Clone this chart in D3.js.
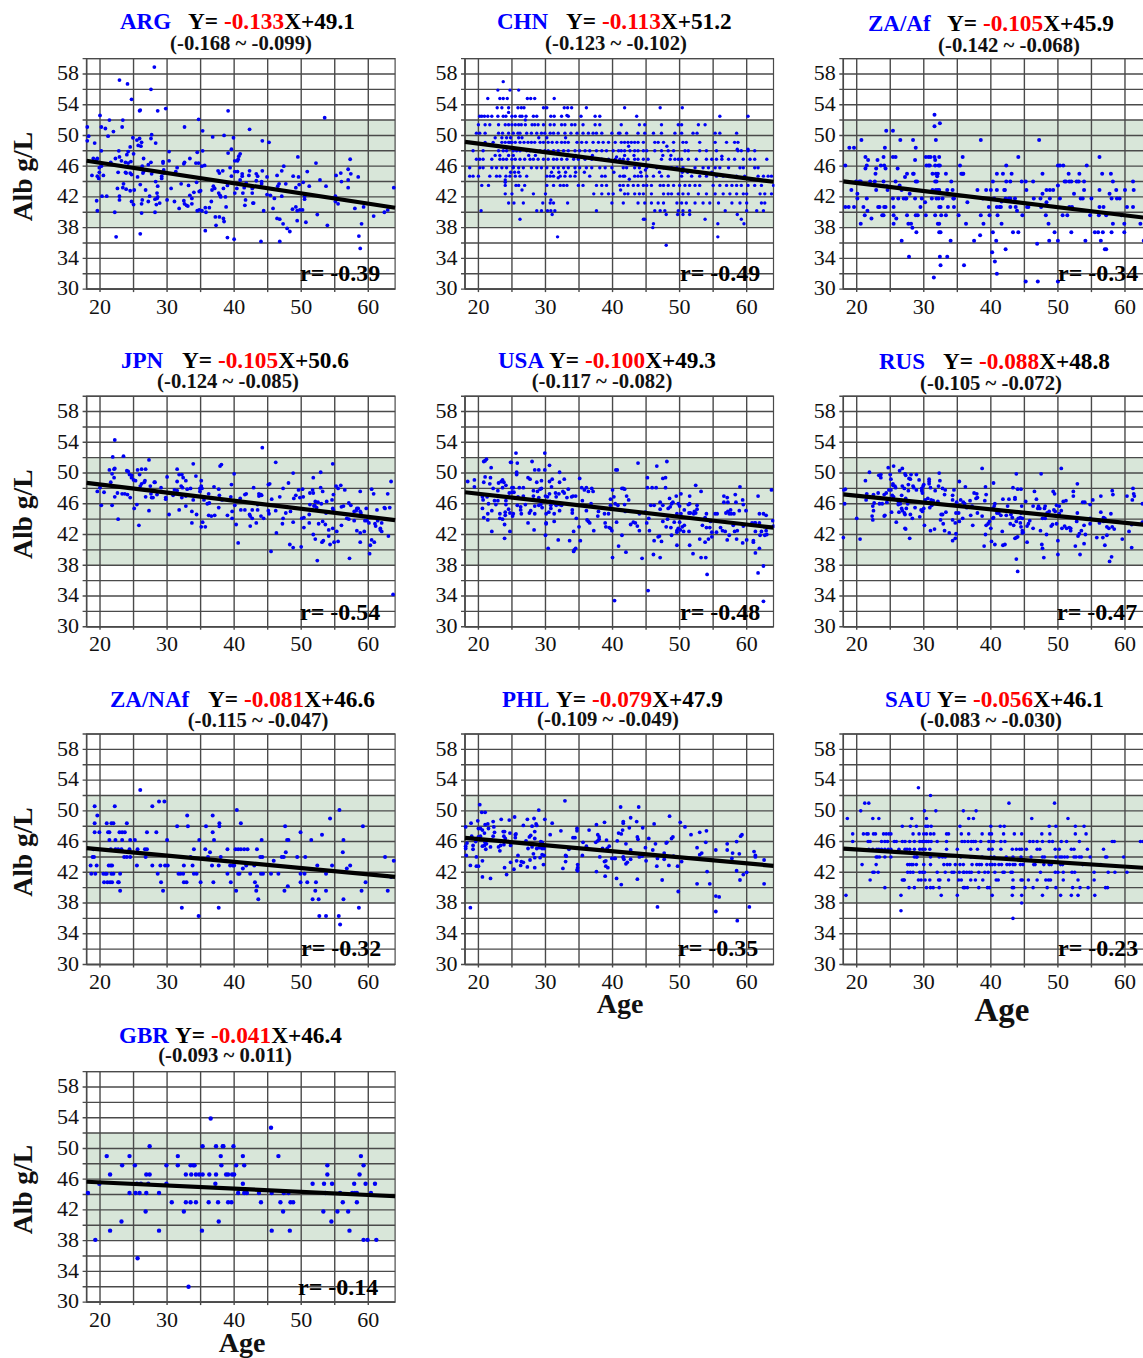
<!DOCTYPE html>
<html><head><meta charset="utf-8">
<script src="https://cdn.jsdelivr.net/npm/d3@7"></script>
<style>
html,body{margin:0;padding:0;background:#fff;overflow:hidden}
svg{display:block}
text{font-family:"Liberation Serif","Times New Roman",serif}
</style></head><body><div id="c"></div>
<script>
// ---------- tick values ----------
const xTicks=[20,25,30,35,40,45,50,55,60];
const xLabels=[20,30,40,50,60];
const yTicks=[30,32,34,36,38,40,42,44,46,48,50,52,54,56,58,60];
const yLabels=[30,34,38,42,46,50,54,58];
const refBand=[38,52];

// ---------- panel statistics ----------
const names=["ARG","CHN","ZA/Af","JPN","USA","RUS","ZA/NAf","PHL","SAU","GBR"];
const slopes=[-0.133,-0.113,-0.105,-0.105,-0.100,-0.088,-0.081,-0.079,-0.056,-0.041];
const intercepts=[49.1,51.2,45.9,50.6,49.3,48.8,46.6,47.9,46.1,46.4];
const slopeText=["-0.133","-0.113","-0.105","-0.105","-0.100","-0.088","-0.081","-0.079","-0.056","-0.041"];
const ciText=["(-0.168 ~ -0.099)","(-0.123 ~ -0.102)","(-0.142 ~ -0.068)","(-0.124 ~ -0.085)","(-0.117 ~ -0.082)","(-0.105 ~ -0.072)","(-0.115 ~ -0.047)","(-0.109 ~ -0.049)","(-0.083 ~ -0.030)","(-0.093 ~ 0.011)"];
const rText=["r= -0.39","r= -0.49","r= -0.34","r= -0.54","r= -0.48","r= -0.47","r= -0.32","r= -0.35","r= -0.23","r= -0.14"];

// ---------- scatter values [age, albumin] ----------
const ARG=[[18.1,51.1],[18.3,49.9],[18.1,49.3],[19.2,49],[22.9,57.2],[24.1,56.7],[24.7,54.7],[28.1,58.9],[27.6,56],[25.9,53.2],[26,53.3],[28.6,53.2],[29.8,53.5],[39.1,53.2],[20,52.6],[21.4,52],[23.4,52],[23.3,51.1],[20.2,51.1],[20.8,50.9],[22,50.5],[21.2,49.9],[24.9,49.7],[25.5,49.4],[25.9,49.6],[27.7,50.1],[27.6,49.6],[26.2,49.1],[25.7,48.7],[26.1,48.6],[28.3,49],[24.5,48.5],[24.2,47.9],[22.8,48],[20.2,48],[25,47.6],[24,47.5],[22.9,47.2],[22.3,47],[26.5,47],[19,47],[19.6,47],[19.5,46.8],[23.2,46.7],[21.6,46.5],[23.8,46.5],[24.2,46.4],[24.6,46.6],[27.6,46.5],[27.2,46.2],[26.3,46],[20.2,46],[19.9,45.8],[29.4,46.6],[29.4,46.4],[30.3,47.9],[30.3,46.7],[32.6,46.5],[32.5,46.3],[33.4,47],[34.5,47.8],[35.3,48],[34.7,46.4],[34.3,46.4],[35.2,46],[35.6,46.1],[32.6,51.1],[35.3,50.6],[34.7,52.1],[36.8,49.8],[38.5,50],[39.9,49.7],[42.3,50.8],[44.2,49.3],[45.2,49.1],[39.1,47.7],[39.6,48.2],[53.5,52.3],[49.5,47.2],[39.4,45.8],[40.1,46.7],[40.5,46.7],[40.9,47.6],[40.7,47.3],[40.6,46.9],[47.4,46],[47.1,45.4],[44.2,45.4],[42.3,45.4],[40.1,45.3],[40.5,45.3],[37.6,45.4],[38.3,45.4],[37.8,45.1],[39.6,44.7],[41.2,45],[41.2,44.7],[40.9,44.2],[42.2,44.8],[43.3,45],[43.3,44.1],[43.5,44.7],[46.4,44.8],[48.8,44.7],[49.6,44.6],[50.9,45.3],[52.2,46.4],[52.8,44.2],[53.7,43.4],[55.2,44.8],[55.9,45.1],[56,44],[57.3,46.9],[57,45.6],[57.4,45],[57,44.2],[57,43.2],[58.5,44.6],[63.8,43.2],[55.1,42.1],[55.1,41.4],[55.5,41.1],[58,40.5],[59.3,40.7],[60.8,39.5],[62.4,40],[62.9,40.3],[59,38.5],[58.6,36.9],[58.8,35.3],[53.9,38.3],[52.4,39.7],[50.5,42.1],[50.5,41.7],[51.2,43.4],[50.3,43.9],[49.7,43.6],[49.2,43.2],[48.7,40.4],[49.2,40.7],[49.8,40.3],[50.2,40.3],[49.4,40.2],[49.4,38.9],[50.7,38.7],[48.3,37.5],[47.9,37.9],[47.3,38.5],[46.4,39.2],[46.8,39.1],[46.8,36.2],[44,36.2],[40,36.5],[39,36.7],[35.7,37.6],[45.8,40.5],[44.4,40.2],[42.8,41.2],[42.9,41.2],[41.7,41.6],[41.6,40.9],[46,41.8],[45.4,42.2],[44.9,42.3],[47.1,42.1],[47.7,43.7],[46.7,43.7],[46.5,43.4],[44.1,44],[44.1,43.7],[44.9,44.6],[42.7,42.5],[42.7,43.1],[41.3,42.5],[41.5,43.2],[41.8,43.8],[40.4,43.1],[40.1,42.5],[39,43.5],[38.7,42],[38.4,43.1],[37.1,43.1],[36.7,42.9],[36.9,43.4],[37.7,42.5],[37.9,42.2],[38,42],[38.8,40.7],[38.4,39.2],[38.5,38.8],[37.2,39.4],[37.8,39.4],[37.3,38.3],[36.6,41.4],[36.3,40.6],[35.7,40.6],[35.8,40],[34.5,40.2],[34.8,40.3],[35.2,40.2],[31.8,40.5],[31.1,41.4],[32.5,41.5],[32.6,41.1],[32.9,40.9],[33.1,40.8],[33.7,41.1],[33.7,41.8],[33.4,42.2],[34,42.6],[34.8,42.7],[35,42.8],[34.4,43.9],[33.2,43.5],[32.1,43.7],[30.6,43.1],[30,41.6],[28.9,41.2],[28.6,43.4],[28.5,42.5],[28.6,42],[28.2,41.7],[28.5,41.8],[28.4,41],[28.2,40],[26,37.2],[22.4,36.8],[22.2,40],[19.6,40.2],[19.5,41.5],[20.3,42.1],[21,42.1],[22.6,43.1],[22.9,42.1],[22.9,41.6],[23.5,43.7],[23.4,43.2],[23.9,43],[24.5,42.8],[25.1,42.9],[24.7,41.4],[25,41],[26.2,41.1],[26.3,41.6],[26.2,39.9],[27.2,41.4],[27.4,42.1],[26.8,42.9],[26,43.6],[28.3,44],[29.2,44.4],[29.2,44.7],[31.3,45.3],[31.5,45.8],[29.5,45.5],[29.5,45.1],[27.7,45],[26.5,45.3],[26.4,45.1],[25.6,44.6],[23.8,45.2],[23.9,45.1],[22.7,45.2],[24.5,45.1],[24.7,44.9],[18.8,44.8],[19.6,44.7],[19.8,44.4],[19.9,45.2],[20.5,44.8]];

// CHN values sit on reported levels: [albumin, [ages]]
const CHN_levels=[
[57,[23.7]],
[55.9,[22.9,24.7,26]],
[54.8,[21.4,23.2,23.7,24.3,27.3,27.8,28.4,31.3]],
[53.6,[22.8,23.5,24.5,25.9,26.4,26.8,29.7,30.2,32.8,33.3,33.9,36.1,41.8,47.1,50.4]],
[52.5,[20.2,20.5,20.9,21.4,22,22.9,23.7,24.1,25,25.5,26.2,26.5,27.1,28.2,28.7,30.8,31.3,32.4,33.4,35.3,37.4,38.1,43.6,56,60.2]],
[51.4,[20,21,21.7,23,24,24.5,25,25.5,26,26.4,27,28,28.4,28.9,29.7,30.7,31.3,32.4,32.9,33.9,34.4,35.6,37.4,38.1,41.3,44,44.8,47.3,49.8,50.3,52.8,53.8]],
[50.3,[19.7,20.2,21,23,23.6,24.5,25.2,25.9,26.2,27.2,27.9,28.7,29.4,29.9,30.7,31.2,31.9,32.9,33.8,34.7,35.6,36.4,37.1,37.6,38.4,39.9,40.9,41.1,42.1,43.8,44.8,46.1,47.3,49.3,50.3,52,52.6,55.3,56,58.5]],
[49.7,[22.5,23.5,24.2,24.8,26,26.5,29,30.2,33]],
[49.1,[18.7,21,22.2,23.5,24,24.5,24.7,25,25.5,26.2,26.8,27.4,27.9,28.4,29.2,29.7,30.4,31,31.7,32.4,32.9,33.4,34.7,35.4,36.1,37.1,37.9,38.6,39.4,40.4,41.3,41.8,42.3,42.8,43.3,43.8,44.6,46.3,46.8,47.6,49.1,50.5,51,53,55.3,57,58.2,58.7]],
[48,[19.2,20.7,23,23.7,24.2,25.2,25.7,26.2,27.2,27.7,28.4,29.2,29.9,30.4,31.2,31.9,32.7,33.4,34.4,35.1,35.9,36.6,37.6,38.4,39.1,40.1,40.9,41.3,41.8,42.6,43.3,43.8,44.6,45.1,46.3,47.3,48.3,49.1,50.8,51.3,53,54,55.5,58.7,59.2,60.2,61.2]],
[47.4,[22.5,23.2,24.5,25.2,27.5,28.5,33.5,34.5,37,41.8,43.2,47.5,48.7]],
[46.9,[19.7,20.2,20.7,22,23.2,23.7,24.2,25,25.5,26.2,26.9,27.7,28.2,28.9,29.7,30.4,31.2,31.7,32.4,33.2,34.2,34.9,35.9,36.9,37.6,38.4,39.4,40.4,41.1,41.6,42.3,43.3,43.8,44.6,45.3,47.3,48.6,49.3,49.8,50.3,51.3,52.5,54,54.8,55.5,56.3,57.3,58.2,59.5,60.5,61.2,63]],
[45.8,[18.7,20.2,20.7,22,22.7,23.5,24.2,25.2,26,26.7,27.9,28.7,29.4,30.2,31.2,31.9,32.7,33.4,34.4,35.1,36.1,36.9,38.1,38.9,39.9,41.6,42.1,43.3,44,45.1,46.6,47.6,48.8,49.6,50.5,52.3,53.5,54.3,55.3,56,57.3,59,59.5,61.2,61.7]],
[45.2,[24.8,25.4,26,30.9,32,33,34.5,35.8,40.2,44.2,47,50.4,54.8]],
[44.7,[18.7,19.2,20,21.7,22.7,23.2,24.1,24.7,25.5,26.2,27.2,30.2,30.7,31.2,32.2,32.9,33.7,34.4,36.6,38.4,38.9,41.1,41.6,41.8,43.3,43.8,44.3,45.1,46.1,47.3,48.3,50.3,51.8,53,54,55.5,56.5,57.5,58.5,59.7,61.7,62.5,63.2,63.7]],
[43.5,[20.5,21.5,24,25.6,26,26.9,30.2,31.2,32.2,32.7,33.2,34.9,35.6,37.6,38.4,39.1,41.1,41.6,42.3,43.1,43.8,44.6,45.1,45.8,47.1,47.6,48.3,49.1,50,50.8,51.5,52.3,53,55,56,57,57.8,58.5,59.2,60.2,61.2,62.2,64]],
[42.4,[24,25,28.2,30,37.2,38.4,39.4,40.1,41.8,42.3,43.3,44,44.6,45.8,47.6,48.3,48.8,49.8,50.5,51.3,52.8,54,55.3,56.5,57.5,58.5,59.5,60,62,62.7,63.7]],
[41.2,[24.5,25.3,26.7,29.6,30.7,31.2,33.3,39.9,41.6,43.8,44.8,45.8,46.8,47.6,49.6,50.3,51,52.3,53.5,54.5,55.8,57.8,59,60,62.2,62.7]],
[40.2,[20.4,28.7,29.4,30.3,30.8,31.4,37.6,46.3,47.1,47.8,49.8,50.5,51.5,56.8,60,61.5,62.5]],
[39.7,[48,49.7,50.5,51.5,58.6,31]],
[39.1,[26.2,44.6,53.8,59.2]],
[38.5,[46.1,55.7,59.6]],
[38,[46]],
[36.8,[31.8,55.7]],
[35.7,[48]]];

const ZAAf=[[18.3,46.1],[18.3,40.7],[18.8,40.7],[18.9,48.4],[19.6,48.4],[19.2,42.9],[19.6,40.7],[19.9,44],[20.1,42.4],[20.1,41.8],[20.4,44],[20.6,44],[20.6,38.5],[20.7,49.4],[21,40.7],[21.2,39.6],[21.3,47.2],[21.3,45.7],[21.5,46.1],[21.7,46.8],[21.5,41.8],[21.6,40.2],[22,44],[22.2,39.2],[22.7,44],[22.8,45],[22.9,45.7],[22.9,42.9],[23.1,46.8],[23.2,40.7],[23.4,40.7],[23.6,46.1],[23.8,39.6],[24,39.6],[24,44],[24,47.2],[24.1,46.1],[24.2,48.4],[24.3,45.7],[24.4,50.6],[24.5,43.4],[24.6,42.9],[24.1,40.7],[24.3,40.7],[25.4,50.6],[25.4,47.2],[25.8,47.2],[25.4,41.8],[25.5,40.7],[25.5,39.6],[25.5,38.5],[25.8,44],[25.9,39.2],[26.1,45.7],[26.2,41.8],[26.4,43.5],[26.5,49.4],[26.7,42.9],[26.7,36.3],[27,41.8],[27.3,41.8],[27.2,44.6],[27.5,45],[27.4,41.8],[27.5,39.6],[27.7,38.5],[27.8,34.2],[27.9,42.4],[28.1,38.5],[28.3,38],[28.4,45],[28.4,49.4],[28.5,45],[28.7,41.8],[28.7,46.8],[28.8,48.4],[28.8,44],[29,44],[28.8,39.6],[28.9,37.4],[29.1,39.6],[29.5,40.7],[29.7,41.8],[30.2,41.3],[30.3,39.6],[30.3,47.2],[30.7,47.2],[30.4,46.1],[30.7,46.1],[30.9,46.1],[31,47.2],[31.3,42.9],[31.2,41.8],[31.3,45],[31.5,31.5],[31.6,47.2],[31.6,51.2],[31.6,52.7],[31.7,46.8],[31.8,49.4],[31.7,46.1],[31.8,45],[31.7,44],[31.8,42.9],[32,44.7],[31.9,44],[32.1,42.9],[32.2,46.1],[32.1,45],[32.4,46.1],[32.3,47.2],[32.3,42.9],[31.7,39.6],[31.9,41.8],[32.2,41.8],[32.3,40.7],[32.5,40.7],[32.1,38.5],[32.3,38.5],[32.3,37.4],[32.5,37.4],[32.4,51.6],[32.4,34.2],[32.5,33.1],[32.6,39.6],[32.8,41.8],[33.3,45],[33.3,39.6],[33.5,34.2],[33.5,42.9],[33.6,40.7],[34,36.3],[34.1,44],[34.3,42.9],[34.4,41.8],[34.5,41.8],[34.5,40.7],[35.2,39.6],[35.4,46.1],[35.6,45],[35.8,45],[35.8,47.2],[35.9,45],[36,33.1],[36.3,38.5],[36.5,41.3],[37.5,36.3],[38,42.9],[38.4,37],[38.5,49.4],[38.5,39.6],[38.8,41.8],[38.9,38.5],[39.3,42.9],[39.7,40.7],[39.8,39.6],[40,42.9],[40.2,34.8],[40.3,37.4],[40.3,44],[40.5,41.8],[40.6,33.6],[40.8,36.3],[40.9,32],[40.9,45],[40.9,42.9],[40.9,40.7],[41,39.6],[41.3,40.7],[41.5,40.7],[41.6,41.4],[41.6,38.5],[41.8,45],[42,42.9],[42.1,42.9],[42.2,41.8],[42.2,35.2],[42.3,46.1],[42.3,44],[42.7,41.8],[42.9,41.8],[42.9,40.7],[42.9,44],[43.1,45],[43.3,37.4],[43.6,41.8],[43.7,40.7],[43.9,40.2],[44.1,47.2],[44.1,37.4],[44.6,44],[44.7,39.6],[45.2,44],[45.3,42.9],[45.2,31],[45.4,40.7],[45.6,40.7],[46.3,44],[46.4,41.8],[46.9,35.9],[47,31],[47.2,49.4],[47.4,41.8],[47.5,40.7],[47.7,45],[47.7,42.4],[48.2,39.6],[48.3,41.3],[48.3,42.9],[48.6,38.5],[48.7,36.3],[48.8,42.9],[48.8,41.8],[49.3,42.9],[49.5,37.4],[50,36.3],[50,31],[50,43.5],[50,46.1],[50.3,46.1],[50.3,41.8],[50.8,46.1],[50.7,39.6],[51,44],[51.2,44],[51.4,39.6],[51.6,45],[51.7,44],[51.7,40.7],[52,44],[52.1,40.7],[52,37.4],[52.4,42.4],[52.8,44],[53.1,44],[53.2,45],[53.4,41.8],[53.7,41.8],[53.9,44],[53.9,42.9],[54.1,36.3],[54.3,46.1],[54.8,39.6],[55,41.8],[55.5,37.4],[56,37.4],[56.1,39.6],[56.2,40.7],[56.2,42.9],[56.2,47.2],[56.4,36.3],[56.6,45],[56.7,37.4],[56.8,40.7],[57,35.2],[57.2,35.2],[57.2,39.6],[57.7,42.4],[57.9,45],[58,37.4],[58,41.8],[58.2,44],[58.2,38.5],[58.7,42.9],[58.8,41.8],[59.2,41.8],[59.5,39.6],[59.9,38.5],[59.9,37.4],[60,42.9],[60.3,40.7],[61.2,44],[61.2,40.7],[61.3,42.9],[62.3,38.5],[62.8,36.3],[63,40.7]];

const JPN=[[19.6,47.6],[20,48.1],[20.6,47.5],[20.2,45.8],[21.8,45.8],[22.7,44],[22.2,46.9],[22.6,47.4],[22.2,54.3],[21.9,52.1],[23.5,52.2],[22.2,50.6],[22.1,50.5],[21.4,50.4],[21.8,49.9],[22.1,49.4],[21.6,48.8],[24,50.3],[24.2,50.2],[24.4,49.8],[24.7,49.7],[24.7,49.4],[25,49.1],[25.3,49],[25.6,50.4],[26.2,50.5],[26.8,50.5],[27.3,51.7],[25.9,49.8],[26.2,48.6],[26,48.3],[26.6,48.8],[26.7,49],[28.2,48.8],[28.1,48.8],[27.5,48.3],[29.1,48.1],[23.3,47.3],[23.7,47.3],[24.1,47.2],[24.5,46.8],[25.1,45.4],[25.5,45.9],[25.8,43.2],[27.3,45.1],[26.8,46.9],[27.6,47.3],[27.7,46.8],[27.9,46.8],[28.5,47.2],[29.8,46.8],[29.8,46.6],[30,49.5],[30.3,44.6],[30.9,47.1],[31.1,47.8],[31.5,47.7],[31.5,50.5],[31.5,48.9],[31.8,45.2],[31.8,49.8],[32.2,49.8],[32.4,49.4],[32.8,49],[32.1,48.3],[32.3,48.1],[32.2,46.8],[32.8,47],[33,47.9],[33.5,48],[32.8,45.7],[33.9,51.2],[34.3,49.6],[33.7,45],[34.4,44.6],[33.7,43.5],[33.9,46.5],[34.9,47.6],[34.9,48],[35.1,49],[35.1,48.3],[35.2,48],[35.1,43],[35.7,43],[35.3,43.6],[35.5,46.5],[36,46],[36.2,47.3],[36.3,46.1],[36.2,44.5],[36.6,44.4],[37.1,44.5],[37,48.2],[37.7,45.5],[37.7,47.9],[37.8,47.1],[37.9,50.9],[38.1,51.1],[38.2,46.5],[39,44.5],[39.6,48.5],[39.5,46.9],[39.7,45],[39.7,44.1],[40,49.9],[40.1,45.8],[40.3,43.3],[40.6,40.9],[40.9,46.7],[41,45.2],[41.6,45.2],[41.6,47.2],[41.8,47.3],[42.3,44.6],[42.4,44.4],[42.7,44.1],[42.7,45.2],[42.4,43.1],[42.9,48.1],[43.3,43.5],[43.5,45.2],[43.5,45.9],[43.7,47.3],[44,47.2],[43.7,47],[44.1,47.1],[44,44.4],[44.4,44.1],[44.2,53.3],[45.1,48.5],[45.3,48.6],[45.1,45.1],[45.2,44.7],[45.6,46.6],[45.5,39.8],[46.2,51.4],[46.2,45.1],[46.3,42.2],[46.8,46.9],[47.2,43.4],[47.3,44.1],[47.3,48],[47.7,44.8],[48.1,48.7],[48.4,45],[48.3,40.7],[48.8,40.3],[48.8,43.6],[48.8,50],[48.9,46.7],[49.2,47.1],[49.6,47.8],[49.8,46.8],[50,40.4],[50.2,47.9],[50.3,46.9],[50.1,44.1],[50.4,44.2],[50.4,42.9],[51.2,44.6],[51.2,43.5],[51.3,45.9],[51.3,47.4],[51.8,49.4],[51.7,47.8],[51.8,47.4],[51.9,45.7],[52,45.8],[51.8,42],[52.1,41.4],[52.1,46.3],[52.4,38.6],[52.5,46.2],[52.6,43.4],[52.3,45.5],[52.9,50.1],[52.9,48.1],[53,46],[53.2,43.7],[53.2,47.6],[53.1,41],[53.3,41.2],[53.6,43.3],[53.7,44.8],[53.8,46.3],[54.1,41.8],[54.1,42.6],[54.3,40.7],[54.6,46.5],[54.7,51.2],[54.7,45.4],[54.8,45.2],[54.8,47.2],[54.7,42.8],[54.9,41],[55.2,48.3],[55.3,42.4],[55.5,41.1],[55.5,48],[55.9,48.4],[56,45.6],[56.3,45.7],[56,43.2],[56.5,47.8],[56.8,44.1],[57.1,44],[57.1,46.1],[57.2,38.9],[57.4,45.8],[57.9,45],[57.9,43.8],[58.3,42.5],[58.3,45.4],[58.5,45.4],[58.2,45.1],[58.8,45],[58.9,44.8],[58.8,42.2],[58.8,41],[58.8,47.6],[59.4,42.4],[59.5,43.8],[59.8,43.8],[59.7,45.4],[60.1,43.5],[60.2,39.5],[60.3,40.6],[60.5,47.9],[60.5,41.3],[60.8,47.3],[60.9,41],[61,43.4],[61.1,43.1],[61.3,45.2],[61.4,43.8],[61.8,42.6],[61.8,42.8],[62,43.5],[62,42.4],[62.4,45.5],[62.5,45.4],[62.9,47.3],[63,41.8],[63.2,45.5],[63.4,48.9],[63.7,34.2]];

const USA=[[18.4,48.9],[19.4,49.1],[19.4,48.2],[20.6,45.4],[20.7,46.5],[20.6,46.9],[20.8,48.8],[20.8,44.2],[20.8,51.5],[21,51.6],[21.2,51.8],[21,49.5],[21.3,46.9],[21.5,46],[21.4,44.7],[21.4,43.9],[21.7,48.6],[21.8,49.4],[21.9,50.7],[22,45.1],[22,42.4],[22.2,48],[22.4,46.4],[22.6,45.9],[22.9,46.4],[22.9,47.7],[23,48.7],[23.4,48.9],[23.6,49.1],[23.8,48.8],[23.2,44.7],[23.2,44.1],[23.6,44],[23.9,43.3],[23.9,41.5],[24,44.5],[24,44.9],[24.1,45.9],[24.1,46.4],[23.6,48.1],[24.1,48.4],[24.5,45.3],[24.6,47.4],[24.7,44.8],[24.7,42.4],[25,47.5],[25.2,44.7],[25.1,44.4],[24.8,51.4],[24.9,51.4],[25,48.1],[25.3,47.5],[25.2,48.1],[25.6,52.6],[25.7,50.1],[25.7,49.8],[25.8,51.3],[25.9,46.9],[25.8,45.8],[26.1,48.1],[26.3,45.6],[26.3,45.2],[26.4,44.7],[26.7,48.1],[26.7,47],[27,45.9],[27.4,43.5],[27.4,49.4],[27.7,49.2],[27.6,44.8],[27.8,45.1],[28,51.5],[28.2,47.7],[28.2,47],[28.3,42.6],[28.4,45.7],[28.4,44.7],[28.4,50.4],[28.7,48.8],[28.8,47.6],[29,45.8],[29,46.8],[29,50.4],[29.2,47.9],[29.4,49],[29.5,45.5],[29.4,48],[29.3,45.9],[29.9,50.4],[29.9,52.6],[30,47],[30.1,44.7],[30,41.9],[30.1,43.5],[30.1,43.4],[30.3,46.9],[30.4,40.2],[30.5,44.9],[30.6,51],[30.6,47.3],[30.6,48.9],[30.7,46.3],[30.8,45.4],[30.8,45.8],[30.9,48.2],[31,49.2],[31.1,46.2],[31.3,46.1],[31.3,44.7],[31.3,43.7],[31.5,47.4],[31.6,45.8],[31.6,46.9],[31.9,41.3],[32,47.3],[32.1,45.9],[32.1,45.1],[32.1,48.8],[32.1,50.1],[32.4,45.8],[32.6,47.6],[32.8,47.4],[32.8,49.2],[33.2,46.8],[33.4,47.9],[33.6,41.2],[33.9,46.9],[34,45.2],[34,44.8],[34.1,47],[34.2,39.8],[34.2,42.4],[34.3,40],[34.5,47],[34.5,40.2],[34.6,44.1],[35,43],[35.1,49.3],[35.2,41.2],[35.4,48.1],[35.5,46.4],[35.8,47.8],[36.1,45.1],[36.1,48.1],[36.2,43.9],[36.4,47.6],[36.4,43.7],[36.6,43.5],[36.8,46],[36.9,48],[37.1,47.6],[37.2,42.5],[37.9,45],[37.8,44.4],[38.9,43.5],[38.8,44.7],[39,43],[39.4,44.7],[39.5,42.9],[39.7,42.8],[39.7,45.8],[39.7,46.6],[39.9,42.5],[40,39],[40,47.8],[40.2,46.9],[40.3,33.4],[40.4,46],[40.5,50.4],[40.7,50.4],[40.6,43.6],[40.8,45.8],[40.9,40.5],[41.4,41.9],[41.4,48],[41.6,48],[41.8,47.9],[41.8,45.9],[41.9,45],[42,39.7],[42.1,47],[42.4,46.5],[42.7,43.3],[43.1,43.6],[43.4,43.5],[43.8,51.3],[43.7,43.1],[44,44.7],[44,42.5],[44.4,38.9],[44.9,44.9],[45.1,43.5],[45.2,49.4],[45.2,48.1],[45.3,34.7],[45.4,44.1],[45.5,42.5],[45.7,45.8],[45.9,48.1],[46.1,39.4],[46.2,45.8],[46.2,41.2],[46.5,48.1],[46.6,50.9],[46.8,41.7],[47,41.8],[47.1,45.3],[47.1,39],[47.1,46.2],[47.3,41.1],[47.5,43.7],[47.5,45.8],[47.5,49.3],[47.9,49.4],[47.9,48.1],[48,43],[48.2,44],[48.1,51.5],[48.3,45.4],[48.5,46.7],[48.6,45.6],[48.8,46],[48.8,41.9],[48.7,42.9],[49,46.2],[49.2,43.6],[49.5,47],[49.6,40.6],[49.6,44.7],[49.6,42.5],[49.6,42.3],[49.8,42.8],[49.8,46],[50,45.7],[50,43.6],[50.1,42.6],[50.2,47.3],[50.2,44.7],[50.4,43],[50.6,42.4],[50.7,43.2],[50.7,45.2],[51.3,45.9],[51.4,44.8],[51.4,42.4],[51.5,40.6],[51.5,47],[51.6,44.8],[51.5,46],[52,39.5],[52.1,44.7],[52.2,45],[52.4,44.8],[52.4,48.4],[52.6,45.3],[52.6,45.8],[53,41.4],[53.2,47.6],[53.2,39],[53.4,43.2],[53.8,44.2],[53.9,39],[53.8,41],[54,42.9],[54,44.7],[54.1,36.8],[54.3,41.4],[54.5,42.9],[54.6,43.7],[54.8,42.3],[54.8,41.7],[55.3,44.7],[55.5,42.3],[55.6,44.7],[56.1,42.9],[56.4,42.5],[56.6,47],[56.6,46.2],[56.8,42.4],[56.9,44.8],[57.1,41.3],[57.1,46.8],[57.2,45],[57.2,46.2],[57.4,41.9],[57.4,44.7],[57.6,45.2],[57.7,44.7],[58,43.2],[58.1,44.7],[58.2,42.4],[58.3,47.2],[58.4,46.2],[58.6,42.5],[58.5,41.4],[58.9,45.1],[59,48.2],[59.4,46.5],[59.4,40.9],[59.5,45.9],[59.5,43.1],[59.9,45.1],[60,41.3],[60.8,43.5],[61,41.2],[61,41],[61.2,43.5],[61.3,42.4],[61.3,43.5],[61.3,39.6],[61.7,47],[61.7,37],[61.9,44.7],[61.9,43.5],[61.9,40.2],[62,41.9],[62.2,42.4],[62.5,44.7],[62.5,33.3],[62.5,37.9],[62.7,41.9],[62.9,44.5],[62.9,42.5],[63,42],[63.7,47.8],[63.9,43.8],[64,43.1]];

const RUS=[[18,41.6],[18.1,47.8],[18.3,47.9],[18.2,46],[21.3,49],[20,44.1],[20.5,41.4],[21.5,47.3],[21.4,46.5],[21.9,50.1],[22.5,47.2],[22.5,46.9],[22.3,44.4],[22.4,43.9],[22.4,45.7],[22.6,46.1],[22.5,45.1],[23.2,47.4],[23.3,49.7],[23.6,49.4],[23.6,49.8],[23.4,46],[23.8,46],[24.1,44.4],[24.2,44.5],[24.1,47.2],[24.4,47.4],[24.5,46.2],[24.7,50.7],[25,49.8],[25.1,49.2],[24.8,47.8],[25.1,47.8],[25.2,44.9],[25.4,48.6],[25.4,48.4],[25.7,48.3],[25.5,50.9],[25.3,47.1],[25.5,46.9],[25.8,48.1],[25.9,43.6],[26.2,45.9],[26.5,46],[26.2,46.3],[26.4,50.3],[26.8,50.6],[26.3,44.9],[26.7,45.4],[26.8,45.1],[26.8,48.3],[27.1,48],[26.7,47.1],[27.2,49.9],[27.3,49.7],[27.1,44.8],[27.2,44.6],[27.3,42.7],[27.2,42.8],[27.4,45.4],[27.3,46.7],[27.6,46],[27.7,47.7],[27.7,48.5],[27.8,49.3],[28,49.2],[28.1,49.8],[28,44.6],[27.9,41.5],[28.3,44.1],[28.4,48.3],[28.5,48.1],[28.7,45.5],[28.9,47.8],[28.9,49.8],[29.3,49.1],[29.4,44.3],[29.6,45.2],[29.8,45],[29.7,47.7],[29.8,47.4],[29.7,48],[30,48.5],[29.9,48.3],[30,45.4],[30.1,43.2],[30.2,46.5],[30.6,46.7],[30.8,49.2],[30.8,48.9],[30.8,48.6],[31,48.1],[30.9,45.5],[31.2,45.8],[31,42.5],[31.1,46.5],[31.4,46.4],[31.3,46.1],[31.6,42.7],[31.7,47.7],[32.1,46.3],[32.3,50],[32.4,49],[32.2,48.3],[32.6,44.6],[32.8,44.6],[32.5,43.9],[32.9,43.4],[33.1,42.5],[32.8,48],[33.2,47.8],[33.1,47.2],[33.3,44.9],[33.8,42.2],[34.3,41.2],[34.7,41.5],[34.3,43.9],[34.5,47.8],[34.3,47.1],[34.3,46.5],[34.8,42.1],[34.7,43.5],[34.9,46.2],[34.8,44.8],[35.2,44.8],[35.3,48.9],[35.5,46.5],[35.3,43.7],[35.8,44.1],[35.9,46.2],[36.1,46],[36.2,48.2],[36.4,45.5],[36.9,46.4],[37,44.5],[37.3,43.2],[37.5,47.4],[37.9,47.3],[37.2,45.7],[37.8,46.7],[38,46.8],[38,44.8],[38.7,50.6],[38.7,44.4],[39,40.5],[39.2,48.2],[39.3,47.2],[39.1,46.4],[39.2,42],[39.3,43.2],[39.6,43.4],[39.8,43.7],[40,42.8],[40.1,41.1],[40.3,44.1],[40.4,44.2],[40.3,45.4],[40.4,48.7],[40.6,46],[40.5,45.7],[40.6,40.7],[40.9,44.8],[41.2,44.8],[41.8,46.6],[41.7,42.4],[41.8,40.6],[42.1,40.7],[41.5,44.5],[42.3,44.5],[42.7,46.6],[42.5,45.7],[42.9,43.4],[43,44.6],[43.3,48.1],[43.4,43.2],[43.2,44.2],[43.6,46.6],[43.6,46.8],[43.8,38.8],[43.6,41.5],[43.8,41.6],[44,41.7],[43.8,49.9],[44,37.2],[44,47.9],[43.8,43.7],[44.1,44.1],[44.4,44.2],[44.5,47.9],[44.4,43.5],[44.5,43],[44.7,42.2],[44.6,45.7],[44.7,44.1],[44.5,44.8],[44.7,42.5],[44.8,42.3],[45.2,46.3],[45.4,43.1],[45.4,41],[45.6,43.4],[45.8,43.8],[46.3,42.8],[46.3,45.7],[46.5,47.6],[46.8,46.6],[47,45.4],[47.3,45.4],[47.1,45.7],[47.4,42.5],[47.5,49.9],[47.6,40.7],[47.7,40.2],[47.9,39],[47.7,44.1],[48.1,44.1],[48.1,45.7],[48,45.4],[48.3,42],[48.4,44.8],[48.7,45],[49,43.1],[49.3,47.6],[49.5,47.3],[49.4,45.2],[49.6,45],[49.2,43.3],[49.8,43.4],[49.8,45.8],[50.2,45.7],[50,41.2],[50,39.4],[50.2,44.7],[50.5,45.1],[50.5,50.6],[50.6,42.8],[50.8,46.3],[51.2,46.4],[51,43.1],[51.3,42.8],[51.7,42.9],[51.9,42.5],[51.9,42.8],[52.3,47.6],[52.3,47],[52.6,40.5],[52.9,48.6],[52.9,44.8],[52.8,43.7],[53,41.8],[53.2,42.1],[53.3,39.4],[53.5,42.5],[53.7,46.2],[54,46.2],[53.9,43.2],[53.9,40.8],[54.1,42],[54.8,45.9],[54.8,44.1],[54.8,43.4],[55.2,46.5],[55.8,41.6],[56.2,43.5],[56.4,47],[56.4,44.9],[56.7,41.6],[56.8,44.2],[56.8,43.7],[57,44.1],[57,40.6],[57.3,41.9],[57.3,43],[57.6,42.8],[57.7,38.5],[57.9,44.7],[58,39.1],[58.1,47.7],[58.2,47.2],[58.1,43],[58.4,42.7],[59.6,41.4],[60.3,47],[60.6,42.4],[61,40.3],[61,43.3],[61.1,46.5],[61.2,48],[61.3,47.3],[61.4,47],[62.6,46],[62.6,43.6]];

const ZANAf=[[18.6,42.9],[18.7,41.8],[18.9,44],[19,45],[19.1,44],[19.2,48.4],[19.2,47.2],[19.3,41.8],[19.2,50.6],[19.5,42.9],[19.6,49.4],[19.9,47.2],[20.5,41.8],[20.6,40.7],[20.8,41.8],[21,41.8],[21,48.4],[21.1,40.7],[21.2,47.2],[21.3,42.9],[21.4,47.2],[21.4,46.2],[21.5,40.7],[21.6,45],[21.6,42.9],[21.7,41.8],[21.8,42.9],[21.7,48.4],[22,48.4],[21.8,40.7],[22,41.8],[22.2,50.6],[22.3,45],[22.3,46.2],[22.7,45],[22.7,40.7],[22.8,40.7],[22.9,47.2],[23,39.6],[23,41.8],[23.3,47.2],[23.2,45],[23.3,46.2],[23.6,44],[23.7,47.2],[24,44],[24,48.4],[24.4,45],[24.5,44],[24.5,46.2],[25.2,46.2],[25.5,42.9],[25.6,45],[26,52.7],[26.7,45],[26.8,44],[27,45],[27,47.2],[27.8,50.6],[27.8,42.9],[28.4,47.2],[28.6,41.8],[28.8,51.2],[29,42.9],[29.1,40.7],[29.4,39.6],[29.6,51.2],[29.7,42.9],[30,46.2],[30.1,42.9],[31.5,48],[31.7,41.8],[32,41.8],[32.2,37.4],[32.4,41.8],[32.5,42.9],[32.5,40.7],[32.9,40.7],[33,49.4],[33.1,48],[33.5,44],[33.8,42.9],[34,45],[34,41.8],[34.4,41.8],[34.7,36.3],[34.8,46.2],[35,40.7],[35.7,45],[35.8,48],[36.1,44],[36.4,44.6],[36.7,42.9],[36.8,49.4],[36.8,47.2],[36.9,40.7],[37,46.2],[37.7,37.4],[37.7,42.9],[37.8,48.4],[37.8,48],[38,44],[39,45],[39,41.8],[39.4,42.9],[39.5,40.7],[39.8,42.9],[40,42.9],[40.2,45],[40.3,39.6],[40.4,50.1],[40.6,45],[40.6,41.8],[40.8,41.8],[41,45],[41,48.4],[41.3,42.5],[41.5,45],[41.8,42.9],[42,45],[42.4,41.8],[43,42.9],[43.1,40.7],[43.3,39.6],[43.4,45],[43.4,40.2],[43.6,38.5],[43.9,44],[44,41.8],[44.1,46.2],[44.2,44],[44.3,41.8],[45.5,41.8],[45.9,43.5],[46.6,41.8],[47.1,44],[47.4,44],[47.5,39.6],[47.6,48],[47.7,44.6],[47.9,46.2],[48,40.2],[48.1,46.2],[49.4,44],[49.9,47.2],[49.9,41.8],[49.9,40.7],[50.5,41.8],[50.6,44],[50.9,40.7],[51.5,46.2],[51.7,38.5],[52.1,39.6],[52.2,40.7],[52.4,42.9],[52.6,38.5],[52.7,36.3],[53.1,46.9],[53.7,41.8],[53.7,39.6],[53.7,36.3],[54.3,49],[54.6,42.9],[55.6,36.3],[55.7,50.1],[55.8,35.2],[56.2,44.6],[56.3,46.2],[56.3,38.5],[56.8,42.5],[57.3,42.9],[58.6,37.4],[59,39.6],[59.2,48],[59.6,40.7],[62.5,44],[62.9,39.6],[63.4,41.4],[63.8,43.5]];

const PHL=[[18.1,47.9],[18.1,45.4],[18.1,45.1],[18.2,44.2],[18.3,45.8],[18.8,37.4],[18.8,42.9],[18.9,48.4],[19,46.7],[19.2,45.5],[19.2,45],[19.6,46],[19.7,44],[19.7,42.8],[19.9,48.7],[20,47.7],[20,46.6],[20,42.8],[20.2,50.8],[20.3,46.7],[20.3,47.7],[20.5,49.8],[20.6,45.4],[20.6,43.5],[20.6,47.5],[20.6,41.4],[20.9,47.1],[20.9,45.5],[21,45.9],[21,48.2],[21.1,45],[21.2,45.7],[21,49.8],[21.4,48.3],[21.5,47.7],[21.8,45.3],[21.8,41.2],[22,46.2],[22.2,48.6],[22.2,46.7],[22.3,47.9],[22.4,47.2],[23,45.3],[23.2,44.8],[23.4,48.9],[23.3,45.5],[23.7,47.3],[23.8,46.7],[23.9,47.3],[23.8,45.6],[23.9,42.6],[24,46.4],[24.2,41.7],[24.6,48.8],[24.7,47.1],[24.8,45.5],[24.8,43.3],[25.3,42.4],[25.5,46.5],[25.4,49.2],[25.5,46.9],[25.6,47],[25.7,43.5],[25.9,44.2],[26.3,42.9],[26.4,43.4],[26.7,43.3],[26.7,48.1],[27.1,46.1],[27.3,42.7],[27.3,48.9],[27.4,45.1],[27.6,46.6],[27.7,43.6],[27.8,46.8],[28,45.3],[28,48],[28.2,44.4],[28.4,46.4],[28.4,47.3],[28.3,49],[28.4,43.9],[28.4,42.6],[28.6,48.3],[28.7,48.1],[28.7,45.1],[29,50.1],[29.1,45.2],[29.2,43.9],[29.3,46],[29.5,45.9],[29.5,44.3],[29.5,45.1],[29.7,43],[29.8,44.2],[29.8,45.1],[29.9,48.9],[30.7,46.9],[31,48.4],[32.3,47.4],[32.6,42.5],[32.9,51.3],[33,44.2],[33,43.4],[33.1,44.1],[33.5,45],[34.1,46.5],[34.4,46.5],[34.7,47.7],[34.7,47.4],[34.8,43],[34.8,42.6],[34.8,42.2],[34.7,42.3],[35.5,44.2],[35.6,45.9],[36.1,45.4],[36.5,47.5],[37.5,45.9],[37.6,42.1],[37.6,48.2],[37.8,46.9],[37.8,46.1],[38,46.6],[38.1,44],[38,46.3],[38.5,45.1],[38.8,48.5],[38.8,43.4],[38.9,41.5],[39,43.5],[39,42.8],[39.1,46.2],[39.2,45.1],[39.3,42.6],[39.5,45.4],[39.9,43.8],[40.3,43.8],[40.4,43.8],[40.6,41.2],[40.7,46.1],[40.9,47.1],[41.3,40.4],[41.3,47],[41.2,50.5],[41.5,47.5],[41.6,43.9],[41.6,48.6],[41.6,48.4],[41.7,43.7],[41.6,44],[42,45.7],[42,43.1],[42.2,43.3],[42.5,47.8],[42.7,49.1],[42.7,44.9],[42.7,43.7],[43.6,48.6],[43.7,46.6],[43.8,46.3],[43.7,41.1],[43.9,50.5],[44,44],[44.4,44.1],[44.5,47.8],[44.9,45.2],[45,43.5],[45.4,46.4],[46,44.9],[46.2,48.3],[46.4,45.7],[46.6,42.8],[46.7,43.8],[46.7,37.5],[47.4,41],[47.7,44.5],[47.7,43.7],[48,45.8],[48.1,45.9],[48.4,42.9],[48.5,49.3],[48.8,46.4],[49,46.6],[49.1,44.1],[49.7,42.8],[49.8,39.5],[50.1,48.5],[50.3,43.4],[50.8,47.9],[51.7,46.9],[52.6,45.2],[52.6,40.5],[53,47.2],[53,44.3],[53.3,44.5],[54,47.4],[53.9,45.9],[54.1,42.1],[54.5,40.5],[55.4,44.9],[55.4,38.9],[55.4,36.9],[55.9,38.8],[57.1,45.7],[57.1,44.9],[57.9,44.5],[57.8,43.8],[58.5,42.2],[58.5,46],[58.6,35.7],[58.9,44.4],[59,41],[59.1,46.7],[59.3,46.9],[59.5,41.7],[60,42],[60.4,37.5],[61.1,44.7],[61.3,44.2],[61.3,44],[62.6,40.5],[62.6,43.6]];

// SAU values are whole g/L: [albumin, [ages]]
const SAU_levels=[
[53,[29.2]],
[52,[31]],
[51,[21.2,21.8,42.7,49.5]],
[50,[20.6,30.1,31.8,35.9,37.8]],
[49,[18.6,22.4,23.3,28.2,30.4,36.7,37.4,46.1,51.5]],
[48,[26.8,28,28.9,30.3,30.6,31.1,35.4,40,41.4,42,48.7,49.7,52.6,53.9]],
[47,[19.4,21,21.5,21.7,22.5,22.8,24,24.4,24.8,25.1,28.4,29.3,30,30.4,31,31.5,33.4,33.7,35.6,36.7,38.7,39.8,40.1,41.9,43.5,44.6,47.6,48.8,52.6,54.2]],
[46,[19.4,21.7,22,23.7,24.2,24.6,25.6,25.9,26.8,27.2,27.9,28.6,29.4,29.8,30.1,30.4,30.7,31.1,32,33.4,35.7,36.1,36.6,37.1,37.4,37.7,38.5,39.7,40.2,40.4,41.5,42.1,45.8,46.3,46.9,47.7,48.7,49.2,50.5,51.3,53.2,58.1,58.4,62.3,62.7]],
[45,[21.8,22.4,23,23.3,23.7,24.2,24.7,25.1,26.3,27.2,27.5,27.9,28.6,29.4,29.8,30.2,30.9,33.4,35,37,38,39.7,40.2,41.5,43.2,43.8,44.3,44.6,45.3,46.9,47.3,49.6,50.2,52,52.4,54.4,56.8]],
[44,[22.9,23.1,23.4,24.2,25.1,28.6,28.9,29,31,32.3,32.8,33.2,35.5,37,38.7,40,40.5,42.3,43.3,44.5,46,47.7,48,49.7,50.3,50.6,51,51.4,52.4,52.7,53.2,53.5,54.8,57.1,57.3,59.8]],
[43,[20.8,22.9,27.6,27.9,28.2,28.4,28.9,30,31,33,33.5,33.9,34.7,35.4,35.9,37.2,37.9,38.3,38.6,39.4,39.9,40.2,40.6,41.2,41.6,42.4,42.8,43.3,43.6,44.4,44.8,46.4,46.6,47.9,48.7,49,50.4,50.7,53.7,55,56.4]],
[42,[22.4,22.6,23.2,27.6,28,28.4,29.4,29.8,30.1,32,33.2,34.2,34.5,35.3,35.9,36,36.4,36.8,37.1,38.2,39.1,39.6,40.6,41.8,42,43,43.2,47.4,49.6,50,50.8,52.1,52.5,55.4,57.5,58.5,60.3]],
[41,[22,26.8,27,27.1,29.2,29.6,30.2,30.9,32.2,32.4,33.7,35.2,35.6,37,37.7,38.8,40.8,41.1,43.3,44.5,44.7,45.6,46.9,48.2,48.6,48.9,50.8,53,55.4]],
[40,[24.2,27.8,28.6,30.4,31,31.4,32.3,35.9,36.1,36.5,38.2,39.5,39.8,43.2,43.4,45.1,46.3,48.4,49.7,52.2,53.3,54.5,57.1,57.4]],
[39,[18.4,26.6,32.6,35,40.2,43.2,44.6,47.7,50.4,52,53,55.5]],
[38,[44.6]],
[37,[26.6]],
[36,[43.3]]];

// GBR values sit on reported levels: [albumin, [ages]]
const GBR_levels=[
[53.9,[36.5]],
[52.7,[45.5]],
[50.3,[27.4,35.3,37.3,38.3,38.4,39.9]],
[49,[21,24.4,31.6,38,41.3,46.6,58.9]],
[47.8,[23.3,25.2,29.9,31.6,33.5,33.9,34.1,38.1,40.3,41.5,53.9,59.3]],
[46.6,[21.5,26.9,27.4,32.8,33.6,34.3,34.8,35.3,36.3,37.3,38.8,39.1,39.7,40,53.9,58.7]],
[45.4,[19.9,25.5,26.1,27.2,29.9,37.2,41.3,51.7,53.4,54.6,57.9,59.6,61]],
[44.2,[18.2,24.4,25.3,25.9,26.9,28.8,40.6,41.5,41.9,43.7,45.6,47.4,48.1,53.6,55.8,57.6,58,58.3,60.4]],
[43,[30.7,32.8,33.5,34.3,36.2,37.6,39.1,39.6,44,46.9,48.4,48.8,56.2,58.3]],
[41.8,[26.8,32.5,47.3,53.3,55.4,57]],
[40.5,[23.2,37.7,54.5]],
[39.3,[21.5,28.8,35.2,45.6,48.3,57.2]],
[38.1,[19.3,59.3,59.9,61.2]],
[35.7,[25.6]],
[32,[33.2]]];

const rowsToPoints=rows=>rows.flatMap(([alb,ages])=>ages.map(a=>[a,alb]));
const CHN_extra=[[24.5,53],[27,52],[33.2,52.6],[41.2,42.9],[26.5,42.9],[30.8,41.6],[44.8,39.1],[40.6,47.2],[42.4,48.6],[48.1,48.6],[58.6,48.2],[60.2,48.2],[24,43.9],[24,44.2],[25.2,45.9],[31.9,44.5],[42.5,44.3],[44.9,45.5],[51.2,45.2],[56.3,47.3]];
const panelPoints=[ARG,rowsToPoints(CHN_levels).concat(CHN_extra),ZAAf,JPN,USA,RUS,ZANAf,PHL,rowsToPoints(SAU_levels),rowsToPoints(GBR_levels)];
const dotRadius=[1.9,1.7,2,1.9,1.9,1.9,2,1.9,1.8,2.2];

// ---------- layout ----------
const W=1143,H=1358,plotW=308.5,plotH=230.5;
const colLeft=[86.6,465,843.3],rowTop=[58.6,396.2,734,1071.6];
const titlePos=[
 {lx:120,ex:188,b:29,sx:241,sb:50,rx:300,ry:281},
 {lx:497,ex:566,b:29,sx:616,sb:50,rx:680,ry:281},
 {lx:868,ex:947,b:31,sx:1009,sb:52,rx:1058,ry:281},
 {lx:121,ex:182,b:368,sx:228,sb:388,rx:300,ry:620},
 {lx:498,ex:549,b:368,sx:602,sb:388,rx:680,ry:620},
 {lx:879,ex:943,b:369,sx:991,sb:390,rx:1057,ry:620},
 {lx:110,ex:208,b:707,sx:258,sb:727,rx:301,ry:956},
 {lx:502,ex:556,b:707,sx:608,sb:726,rx:678,ry:956},
 {lx:885,ex:937,b:707,sx:991,sb:727,rx:1058,ry:956},
 {lx:119,ex:175,b:1043,sx:225,sb:1062,rx:298,ry:1295}];
const ageLabels=[{p:7,cx:620,b:1013,fs:28},{p:8,cx:1002,b:1021,fs:33},{p:9,cx:242,b:1352,fs:28}];
const gridCol="#4a4a4a";

const svg=d3.select("#c").append("svg").attr("width",W).attr("height",H).attr("viewBox",`0 0 ${W} ${H}`);
svg.append("rect").attr("width",W).attr("height",H).attr("fill","#fff");

names.forEach((name,i)=>{
  const c=i%3,r=Math.floor(i/3);
  const left=colLeft[c],top=rowTop[r];
  const x=d3.scaleLinear().domain([18,64]).range([left,left+plotW]);
  const y=d3.scaleLinear().domain([30,60]).range([top+plotH,top]);
  const g=svg.append("g").attr("class","panel");
  const clipId="clip"+i;
  g.append("clipPath").attr("id",clipId).append("rect").attr("x",left-2).attr("y",top-1).attr("width",plotW+3).attr("height",plotH+2);

  g.append("rect").attr("x",x(18)).attr("width",x(64)-x(18)).attr("y",y(refBand[1])).attr("height",y(refBand[0])-y(refBand[1])).attr("fill","#d8e6d9");

  const ax=g.append("g").attr("transform",`translate(0,${top+plotH})`)
    .call(d3.axisBottom(x).offset(0).tickValues(xTicks).tickSize(plotH+3).tickSizeOuter(0).tickFormat(d=>xLabels.includes(d)?d:""));
  ax.selectAll(".tick line").attr("y1",3).attr("y2",-plotH).attr("stroke",gridCol).attr("stroke-width",1.4);
  ax.select(".domain").attr("stroke","#333").attr("stroke-width",1.5);
  ax.selectAll("text").attr("y",9).attr("dy","0.71em").attr("font-size",22).attr("fill","#111")
    .style("font-family",'"Liberation Serif",serif');

  const ay=g.append("g").attr("transform",`translate(${left},0)`)
    .call(d3.axisLeft(y).offset(0).tickValues(yTicks).tickSize(4).tickSizeOuter(0).tickFormat(d=>yLabels.includes(d)?d:""));
  ay.selectAll(".tick line").attr("x1",-4).attr("x2",plotW).attr("stroke",gridCol).attr("stroke-width",1.4);
  ay.select(".domain").attr("stroke","#333").attr("stroke-width",1.5);
  ay.selectAll("text").attr("x",-7.5).attr("dy","0.29em").attr("font-size",22).attr("fill","#111")
    .style("font-family",'"Liberation Serif",serif');

  g.append("rect").attr("x",left).attr("y",top).attr("width",plotW).attr("height",plotH).attr("fill","none").attr("stroke",gridCol).attr("stroke-width",1.2);

  const clipped=g.append("g").attr("clip-path",`url(#${clipId})`);
  clipped.append("g").selectAll("circle").data(panelPoints[i]).join("circle")
    .attr("cx",d=>x(d[0])).attr("cy",d=>y(d[1])).attr("r",dotRadius[i]).attr("fill","#0000f5");
  const line=d3.line().x(d=>x(d)).y(d=>y(slopes[i]*d+intercepts[i]));
  clipped.append("path").attr("d",line([18,64])).attr("fill","none").attr("stroke","#000").attr("stroke-width",4.2);

  const p=titlePos[i];
  g.append("text").attr("x",p.lx).attr("y",p.b).attr("font-size",23).attr("font-weight","bold").attr("fill","#0000ff").text(name);
  const eq=g.append("text").attr("x",p.ex).attr("y",p.b).attr("font-size",23.3).attr("font-weight","bold").attr("fill","#000");
  eq.append("tspan").text("Y= ");
  eq.append("tspan").attr("fill","#ff0000").text(slopeText[i]);
  eq.append("tspan").text("X+"+intercepts[i].toFixed(1));
  g.append("text").attr("x",p.sx).attr("y",p.sb).attr("text-anchor","middle").attr("font-size",20.7).attr("font-weight","bold").attr("fill","#111").text(ciText[i]);
  g.append("text").attr("x",p.rx).attr("y",p.ry).attr("font-size",24).attr("font-weight","bold").attr("fill","#000").text(rText[i]);

  if(c===0){
    g.append("text").attr("transform",`translate(31.5,${top+118}) rotate(-90)`).attr("text-anchor","middle")
      .attr("font-size",27.5).attr("font-weight","bold").attr("fill","#111").text("Alb g/L");
  }
});
ageLabels.forEach(a=>{
  svg.append("text").attr("x",a.cx).attr("y",a.b).attr("text-anchor","middle").attr("font-size",a.fs).attr("font-weight","bold").attr("fill","#111").text("Age");
});
</script></body></html>
